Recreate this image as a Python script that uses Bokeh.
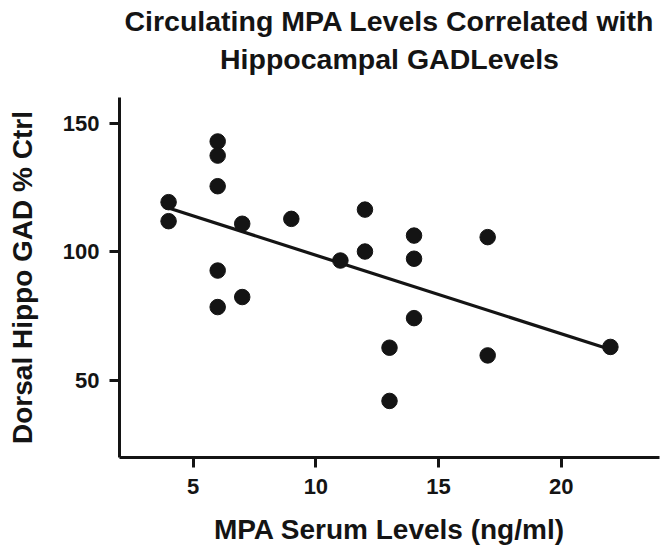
from bokeh.plotting import figure
from bokeh.models import FixedTicker, Range1d, Title
from bokeh.embed import file_html
from bokeh.resources import INLINE

# Data
mpa_serum = [4, 4, 6, 6, 6, 6, 6, 7, 7, 9, 11, 12, 12, 13, 13, 14, 14, 14, 17, 17, 22]
gad_pct_ctrl = [119.3, 111.9, 142.9, 137.4, 125.5, 92.7, 78.5, 110.9, 82.4, 112.8, 96.6,
                116.4, 100.1, 62.7, 42.0, 106.3, 97.3, 74.2, 105.7, 59.7, 63.0]
fit_x = [4, 22]
fit_y = [117.0, 62.0]
x_ticks = [5, 10, 15, 20]
y_ticks = [50, 100, 150]
title_lines = ["Circulating MPA Levels Correlated with", "Hippocampal GADLevels"]

FONT = "Liberation Sans"
INK = "#141414"

p = figure(
    frame_width=540, frame_height=360,
    min_border_left=119, min_border_right=5, min_border_top=97, min_border_bottom=95,
    x_range=Range1d(2, 24), y_range=Range1d(20, 160),
    output_backend="svg", toolbar_location=None,
)
p.title.visible = False

# second line nearest the frame, first line above it
for text, standoff in ((title_lines[1], 46), (title_lines[0], -38)):
    t = Title(text=text, align="center", text_font=FONT, text_font_style="bold",
              text_font_size="28.5px", text_color=INK, standoff=standoff)
    p.add_layout(t, "above")

p.outline_line_color = None
p.xgrid.visible = False
p.ygrid.visible = False

for ax in (p.xaxis, p.yaxis):
    ax.axis_line_width = 3
    ax.axis_line_color = INK
    ax.major_tick_line_width = 3
    ax.major_tick_line_color = INK
    ax.major_tick_out = 10
    ax.major_tick_in = 0
    ax.minor_tick_line_color = None
    ax.major_label_text_font = FONT
    ax.major_label_text_font_style = "bold"
    ax.major_label_text_font_size = "22px"
    ax.major_label_text_color = INK
    ax.axis_label_text_font = FONT
    ax.axis_label_text_font_style = "bold"
    ax.axis_label_text_font_size = "28px"
    ax.axis_label_text_color = INK

p.xaxis.ticker = FixedTicker(ticks=x_ticks)
p.yaxis.ticker = FixedTicker(ticks=y_ticks)
p.xaxis.axis_label = "MPA Serum Levels (ng/ml)"
p.yaxis.axis_label = "Dorsal Hippo GAD % Ctrl"
p.xaxis.major_label_standoff = 11
p.yaxis.major_label_standoff = 10
p.xaxis.axis_label_standoff = 17
p.yaxis.axis_label_standoff = 22

p.line(fit_x, fit_y, line_color=INK, line_width=3.2)
p.scatter(mpa_serum, gad_pct_ctrl, size=15.5, fill_color=INK, line_color=INK)

open("out.html", "w").write(file_html(p, INLINE))
